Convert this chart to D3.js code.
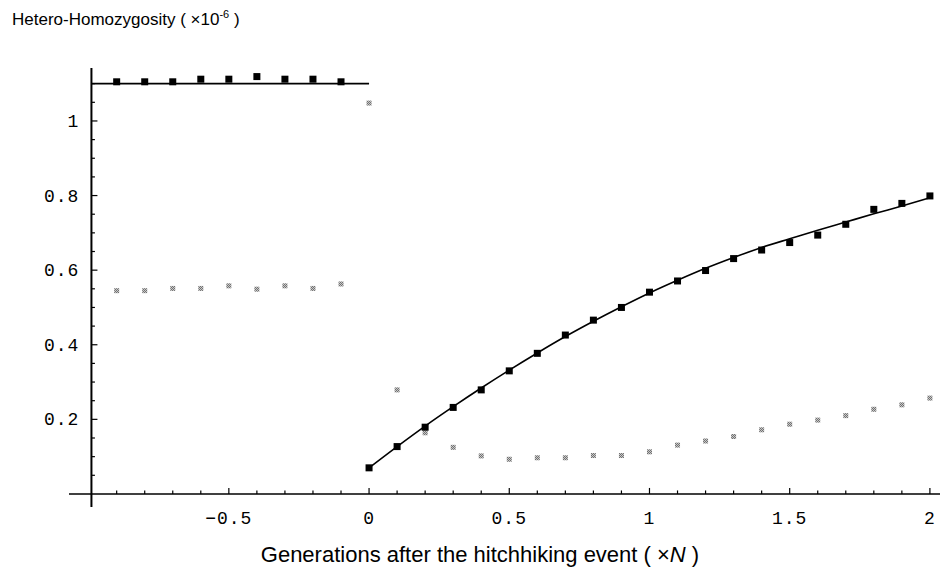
<!DOCTYPE html>
<html>
<head>
<meta charset="utf-8">
<script src="https://cdn.jsdelivr.net/npm/d3@7"></script>
<style>
  body { margin: 0; background: #fff; }
  svg { display: block; }
</style>
</head>
<body>
<div id="chart"></div>
<script>
// generations (x N) before and after the sweep
const preGen = [-0.9, -0.8, -0.7, -0.6, -0.5, -0.4, -0.3, -0.2, -0.1];
const postGen = [0, 0.1, 0.2, 0.3, 0.4, 0.5, 0.6, 0.7, 0.8, 0.9, 1.0,
                 1.1, 1.2, 1.3, 1.4, 1.5, 1.6, 1.7, 1.8, 1.9, 2.0];

// simulated homozygosity (black) and heterozygosity (grey), x 1e-6
const preHomo = [1.105, 1.105, 1.105, 1.112, 1.112, 1.119, 1.112, 1.112, 1.105];
const preHetero = [0.545, 0.545, 0.551, 0.551, 0.558, 0.549, 0.558, 0.551, 0.563];
const postHomo = [0.07, 0.127, 0.179, 0.232, 0.279, 0.33, 0.377, 0.426, 0.466, 0.5, 0.541,
                  0.571, 0.599, 0.631, 0.654, 0.674, 0.694, 0.723, 0.763, 0.779, 0.799];
const postHetero = [1.048, 0.279, 0.164, 0.125, 0.102, 0.093, 0.097, 0.097, 0.103, 0.103, 0.113,
                    0.131, 0.142, 0.154, 0.172, 0.187, 0.198, 0.21, 0.227, 0.239, 0.257];

// theory: neutral level before, recovery curve after
const neutralGen = [-0.99, 0];
const neutralVal = [1.1, 1.1];
const theoryVal = [0.07, 0.127, 0.182, 0.234, 0.284, 0.332, 0.378, 0.422, 0.463, 0.502, 0.539,
                   0.573, 0.605, 0.634, 0.661, 0.684, 0.707, 0.729, 0.751, 0.772, 0.794];

// ticks
const xMajor = [-0.5, 0, 0.5, 1, 1.5, 2];
const xLabels = ["\u22120.5", "0", "0.5", "1", "1.5", "2"];
const yMajor = [0.2, 0.4, 0.6, 0.8, 1];
const yLabels = ["0.2", "0.4", "0.6", "0.8", "1"];

const width = 942;
const height = 583;

const svg = d3.select("#chart")
    .append("svg")
    .attr("width", width)
    .attr("height", height);

const x = d3.scaleLinear().domain([-1.07, 2.036]).range([69, 940]);
const y = d3.scaleLinear().domain([-0.035, 1.142]).range([507, 68]);

const yAxisAt = -0.99;

// dithered grey marker fill
const defs = svg.append("defs");
const pat = defs.append("pattern")
    .attr("id", "dither")
    .attr("width", 2)
    .attr("height", 2)
    .attr("patternUnits", "userSpaceOnUse");
pat.append("rect").attr("width", 2).attr("height", 2).attr("fill", "#c8c8c8");
pat.append("rect").attr("width", 1).attr("height", 1).attr("fill", "#707070");
pat.append("rect").attr("x", 1).attr("y", 1).attr("width", 1).attr("height", 1).attr("fill", "#707070");

/**
* AXES
* */
const axes = svg.append("g").attr("stroke", "#000").attr("fill", "none");

axes.append("line")
    .attr("x1", x.range()[0]).attr("x2", x.range()[1])
    .attr("y1", y(0)).attr("y2", y(0))
    .attr("stroke-width", 1.5);

axes.append("line")
    .attr("x1", x(yAxisAt)).attr("x2", x(yAxisAt))
    .attr("y1", y.range()[1]).attr("y2", y.range()[0])
    .attr("stroke-width", 2);

// x ticks: minor every 0.1, major every 0.5
const xMinor = d3.range(-9, 21).map(d => d / 10);
axes.selectAll(".xminor")
    .data(xMinor)
    .join("line")
    .attr("x1", d => x(d)).attr("x2", d => x(d))
    .attr("y1", y(0)).attr("y2", d => y(0) - (xMajor.includes(d) ? 6 : 3.5))
    .attr("stroke-width", 1.2);

// y ticks: minor every 0.05, major every 0.2
const yMinor = d3.range(1, 23).map(d => d / 20);
axes.selectAll(".yminor")
    .data(yMinor)
    .join("line")
    .attr("x1", x(yAxisAt)).attr("x2", d => x(yAxisAt) + (yMajor.some(m => Math.abs(m - d) < 1e-9) ? 6 : 3.5))
    .attr("y1", d => y(d)).attr("y2", d => y(d))
    .attr("stroke-width", 1.2);

const tickFont = "'Liberation Mono', 'DejaVu Sans Mono', monospace";

svg.append("g")
    .selectAll("text")
    .data(xMajor)
    .join("text")
    .attr("x", d => x(d))
    .attr("y", y(0) + 30)
    .attr("text-anchor", "middle")
    .attr("font-family", tickFont)
    .attr("font-size", 18)
    .attr("letter-spacing", 1)
    .text((d, i) => xLabels[i]);

svg.append("g")
    .selectAll("text")
    .data(yMajor)
    .join("text")
    .attr("x", x(yAxisAt) - 12)
    .attr("y", d => y(d) + 6)
    .attr("text-anchor", "end")
    .attr("font-family", tickFont)
    .attr("font-size", 18)
    .attr("letter-spacing", 1)
    .text((d, i) => yLabels[i]);

/**
* THEORY LINES
* */
const line = d3.line()
    .x(d => x(d[0]))
    .y(d => y(d[1]))
    .curve(d3.curveMonotoneX);

svg.append("path")
    .datum(neutralGen.map((g, i) => [g, neutralVal[i]]))
    .attr("d", line)
    .attr("fill", "none")
    .attr("stroke", "#000")
    .attr("stroke-width", 1.8);

svg.append("path")
    .datum(postGen.map((g, i) => [g, theoryVal[i]]))
    .attr("d", line)
    .attr("fill", "none")
    .attr("stroke", "#000")
    .attr("stroke-width", 1.6);

/**
* SIMULATED POINTS
* */
const homo = preGen.map((g, i) => [g, preHomo[i]])
    .concat(postGen.map((g, i) => [g, postHomo[i]]));
const hetero = preGen.map((g, i) => [g, preHetero[i]])
    .concat(postGen.map((g, i) => [g, postHetero[i]]));

svg.append("g")
    .selectAll("rect")
    .data(hetero)
    .join("rect")
    .attr("x", d => x(d[0]) - 2.5)
    .attr("y", d => y(d[1]) - 2.5)
    .attr("width", 5)
    .attr("height", 5)
    .attr("fill", "url(#dither)");

svg.append("g")
    .selectAll("rect")
    .data(homo)
    .join("rect")
    .attr("x", d => x(d[0]) - 3.5)
    .attr("y", d => y(d[1]) - 3.5)
    .attr("width", 7)
    .attr("height", 7)
    .attr("fill", "#000");

/**
* TITLES
* */
const title = svg.append("text")
    .attr("x", 12)
    .attr("y", 25)
    .attr("font-family", "'Liberation Sans', Arial, sans-serif")
    .attr("font-size", 17);
title.append("tspan").text("Hetero-Homozygosity ( \u00d710");
title.append("tspan").attr("font-size", 11).attr("dy", -7).text("-6");
title.append("tspan").attr("dy", 7).text(" )");

const xTitle = svg.append("text")
    .attr("x", 480)
    .attr("y", 562)
    .attr("text-anchor", "middle")
    .attr("font-family", "'Liberation Sans', Arial, sans-serif")
    .attr("font-size", 22);
xTitle.append("tspan").text("Generations after the hitchhiking event ( \u00d7");
xTitle.append("tspan").attr("font-style", "italic").text("N");
xTitle.append("tspan").text(" )");
</script>
</body>
</html>
